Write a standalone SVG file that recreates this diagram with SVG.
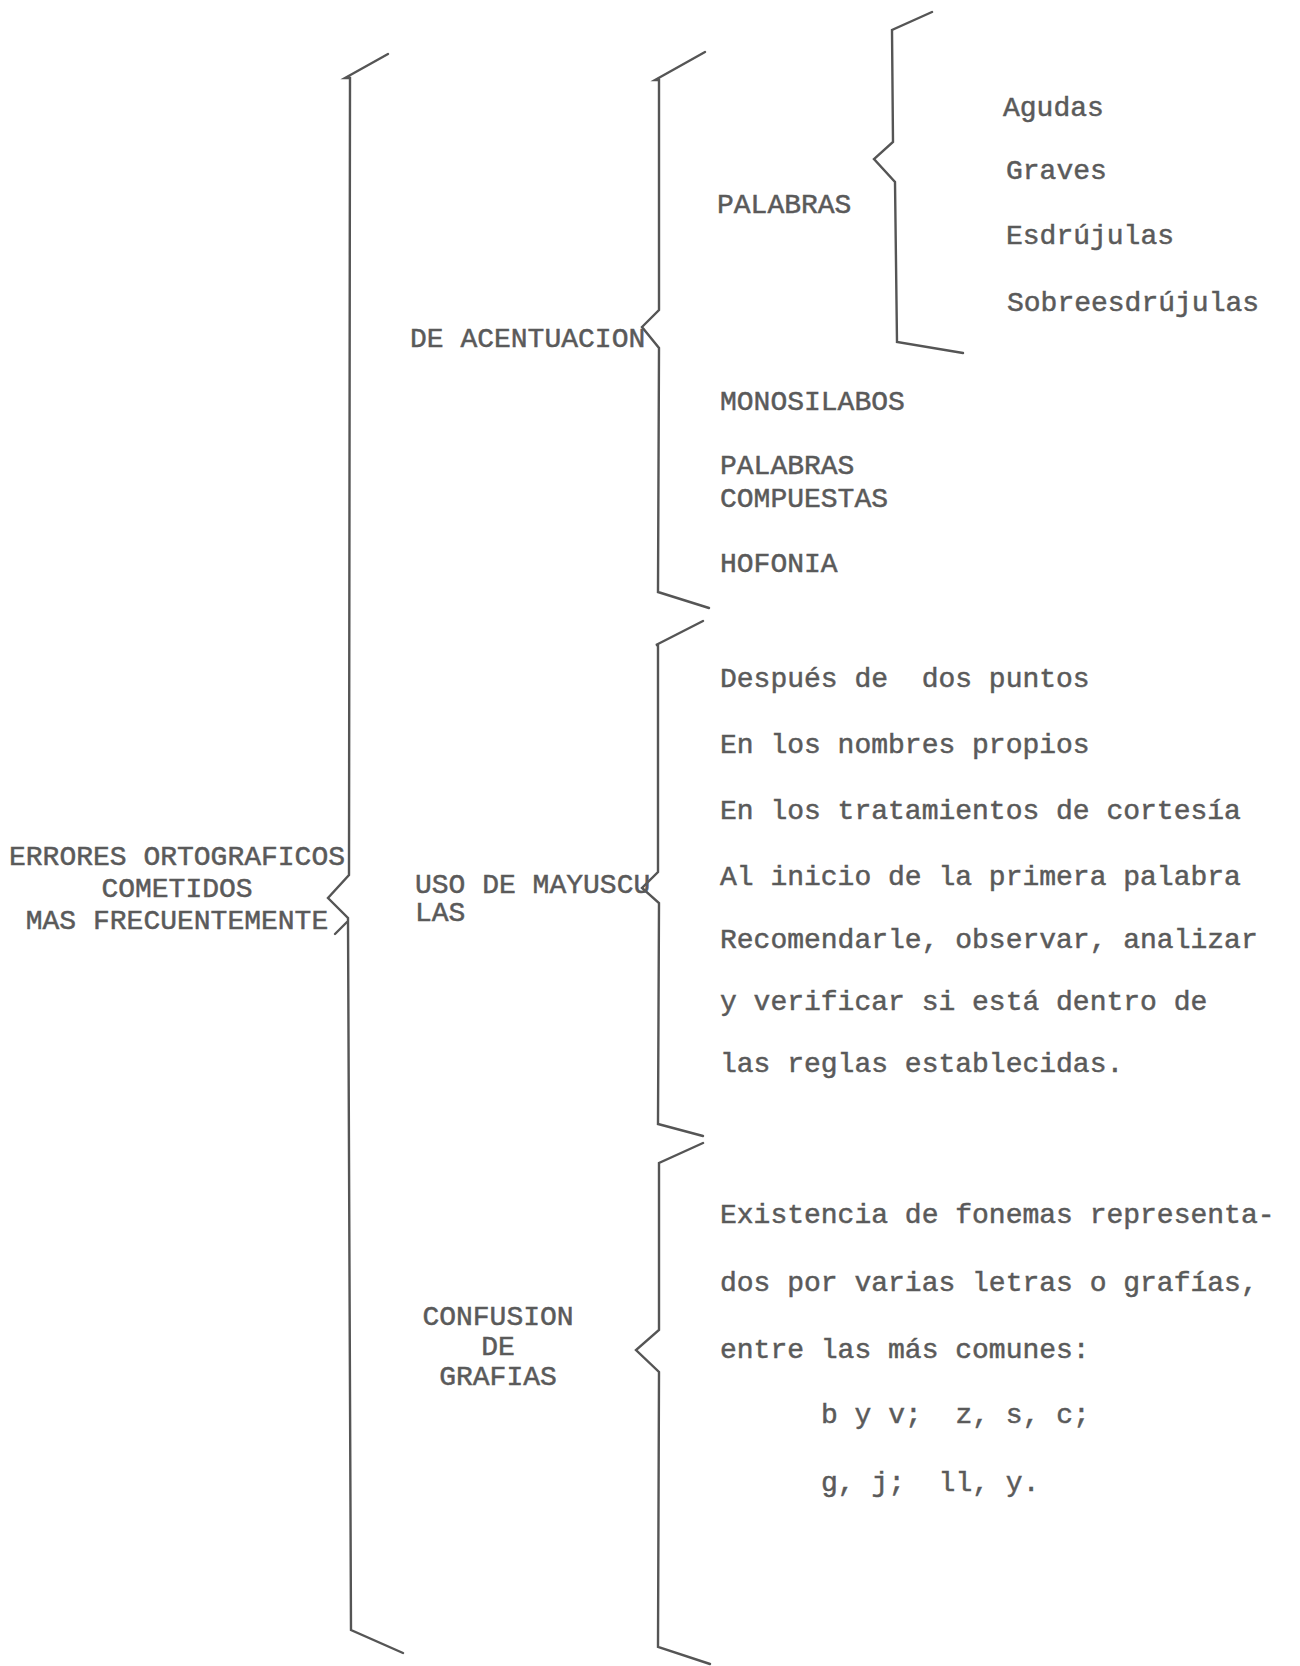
<svg xmlns="http://www.w3.org/2000/svg" width="1300" height="1666" viewBox="0 0 1300 1666">
<style>
.t{font-family:"Liberation Mono","Courier New",monospace;font-size:28px;fill:#5a5a5a;stroke:#5a5a5a;stroke-width:0.5;white-space:pre}
.m{text-anchor:middle}
.b{fill:none;stroke:#555;stroke-width:2.4;stroke-linejoin:miter;stroke-linecap:round}
</style>
<rect width="1300" height="1666" fill="#fff"/>
<g id="connectors">
<path class="b" d="M388,54 L345,78 L350,78 L349,875 L328,898 L348,918 L351,1630 L403,1653"/>
<path class="b" d="M335,934 L347,922"/>
<path class="b" d="M705,52 L655,80 L659,80 L659,310 L642,327 L659,348 L658,592 L709,608"/>
<path class="b" d="M703,621 L656,645 L658,645 L658,872 L642,888 L659,903 L658,1124 L703,1136"/>
<path class="b" d="M703,1143 L659,1163 L659,1330 L636,1350 L659,1372 L658,1647 L710,1664"/>
<path class="b" d="M932,12 L892,30 L893,142 L874,159 L895,182 L897,342 L963,353"/>
</g>
<g id="root">
<text class="t m" x="177" y="865">ERRORES ORTOGRAFICOS</text>
<text class="t m" x="177" y="897">COMETIDOS</text>
<text class="t m" x="177" y="929">MAS FRECUENTEMENTE</text>
</g>
<g id="acentuacion">
<text class="t" x="410" y="347">DE ACENTUACION</text>
</g>
<g id="palabras">
<text class="t" x="717" y="213">PALABRAS</text>
</g>
<g id="agudas"><text class="t" x="1003" y="116">Agudas</text></g>
<g id="graves"><text class="t" x="1006" y="179">Graves</text></g>
<g id="esdrujulas"><text class="t" x="1006" y="244">Esdrújulas</text></g>
<g id="sobreesdrujulas"><text class="t" x="1007" y="311">Sobreesdrújulas</text></g>
<g id="monosilabos"><text class="t" x="720" y="410">MONOSILABOS</text></g>
<g id="compuestas">
<text class="t" x="720" y="474">PALABRAS</text>
<text class="t" x="720" y="507">COMPUESTAS</text>
</g>
<g id="hofonia"><text class="t" x="720" y="572">HOFONIA</text></g>
<g id="mayusculas">
<text class="t" x="415" y="893">USO DE MAYUSCU</text>
<text class="t" x="415" y="921">LAS</text>
</g>
<g id="despues"><text class="t" x="720" y="687">Después de  dos puntos</text></g>
<g id="nombres"><text class="t" x="720" y="753">En los nombres propios</text></g>
<g id="cortesia"><text class="t" x="720" y="819">En los tratamientos de cortesía</text></g>
<g id="inicio"><text class="t" x="720" y="885">Al inicio de la primera palabra</text></g>
<g id="recomendar">
<text class="t" x="720" y="948">Recomendarle, observar, analizar</text>
<text class="t" x="720" y="1010">y verificar si está dentro de</text>
<text class="t" x="720" y="1072">las reglas establecidas.</text>
</g>
<g id="grafias">
<text class="t m" x="498" y="1325">CONFUSION</text>
<text class="t m" x="498" y="1355">DE</text>
<text class="t m" x="498" y="1385">GRAFIAS</text>
</g>
<g id="existencia">
<text class="t" x="720" y="1223">Existencia de fonemas representa-</text>
<text class="t" x="720" y="1291">dos por varias letras o grafías,</text>
<text class="t" x="720" y="1358">entre las más comunes:</text>
<text class="t" x="821" y="1423">b y v;  z, s, c;</text>
<text class="t" x="821" y="1491">g, j;  ll, y.</text>
</g>
</svg>
